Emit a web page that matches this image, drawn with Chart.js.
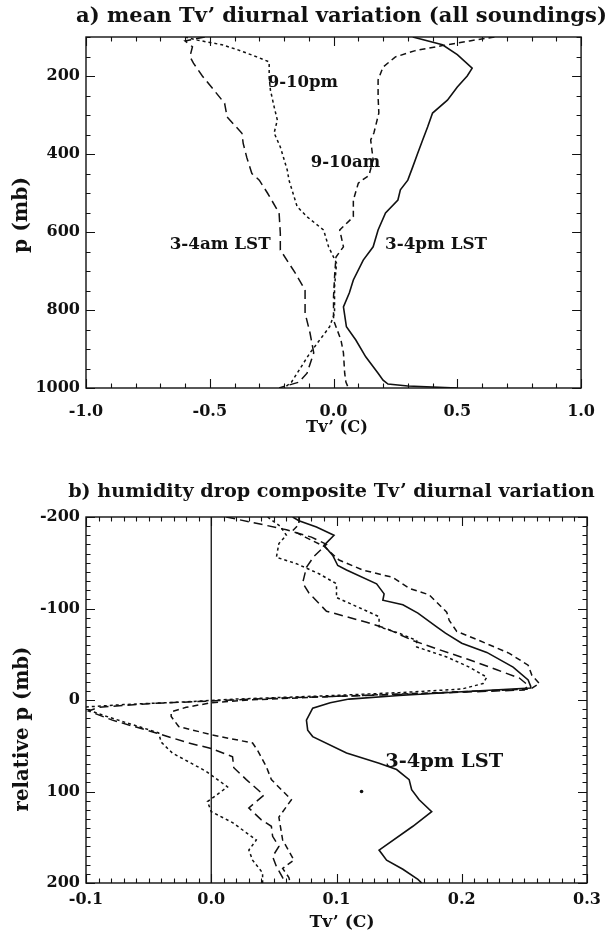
<!DOCTYPE html>
<html><head><meta charset="utf-8">
<script src="https://cdn.jsdelivr.net/npm/chart.js@4"></script>
<style>
html,body{margin:0;padding:0;background:#fff;width:609px;height:934px;overflow:hidden}
canvas{position:absolute;left:0}
#c1{top:0}#c2{top:450px}
</style></head>
<body>
<canvas id="c1" width="609" height="450"></canvas>
<canvas id="c2" width="609" height="484"></canvas>
<script>
// ---------- Panel a: mean Tv' diurnal variation ----------
const topXTicks = [-1, -0.5, 0, 0.5, 1];
const topYTicks = [200, 400, 600, 800, 1000];

const pm34_p  = [100, 120, 145, 180, 200, 228, 262, 295, 331, 364, 398, 433, 467, 492, 518, 551, 595, 638, 672, 723, 756, 792, 843, 877, 920, 962, 980, 990, 995, 1000];
const pm34_tv = [0.32, 0.44, 0.50, 0.56, 0.54, 0.50, 0.46, 0.40, 0.38, 0.36, 0.34, 0.32, 0.30, 0.27, 0.26, 0.21, 0.18, 0.16, 0.12, 0.08, 0.064, 0.04, 0.052, 0.09, 0.13, 0.18, 0.20, 0.22, 0.30, 0.50];

const am34_p  = [100, 110, 125, 150, 167, 200, 231, 270, 305, 347, 373, 410, 450, 467, 500, 551, 603, 646, 705, 749, 808, 859, 910, 962, 985, 1000];
const am34_tv = [-0.52, -0.60, -0.57, -0.58, -0.566, -0.53, -0.49, -0.44, -0.43, -0.37, -0.365, -0.35, -0.33, -0.30, -0.267, -0.22, -0.215, -0.215, -0.155, -0.115, -0.115, -0.095, -0.08, -0.107, -0.14, -0.22];

const pm910_p  = [100, 108, 120, 133, 151, 164, 203, 236, 279, 313, 346, 382, 441, 467, 535, 561, 595, 638, 680, 741, 808, 843, 877, 910, 962, 985, 1000];
const pm910_tv = [-0.60, -0.55, -0.45, -0.386, -0.31, -0.26, -0.26, -0.255, -0.24, -0.227, -0.24, -0.215, -0.187, -0.18, -0.147, -0.107, -0.04, -0.02, 0.012, 0.004, 0.004, -0.016, -0.056, -0.095, -0.147, -0.17, -0.20];

const am910_p  = [100, 110, 122, 135, 151, 177, 210, 254, 295, 346, 364, 415, 455, 465, 475, 518, 561, 595, 638, 664, 705, 766, 826, 877, 910, 962, 985, 1000];
const am910_tv = [0.65, 0.55, 0.44, 0.33, 0.25, 0.20, 0.18, 0.18, 0.183, 0.163, 0.15, 0.16, 0.143, 0.12, 0.10, 0.08, 0.08, 0.025, 0.04, 0.01, 0.005, 0.0, 0.0, 0.03, 0.04, 0.045, 0.05, 0.06];

// ---------- Panel b: humidity drop composite ----------
const botXTicks = [-0.1, 0, 0.1, 0.2, 0.3];
const botYTicks = [-200, -100, 0, 100, 200];

const bSolid_p  = [-200, -196, -189, -180, -169, -158, -147, -142, -127, -116, -109, -104, -95, -80, -73, -62, -52, -36, -22, -15, -13, -9, -5, -1, 3, 9, 22, 33, 40, 58, 69, 76, 87, 98, 109, 122, 138, 164, 175, 185, 196, 200];
const bSolid_tv = [0.065, 0.070, 0.084, 0.098, 0.090, 0.097, 0.101, 0.108, 0.132, 0.138, 0.137, 0.153, 0.165, 0.180, 0.187, 0.200, 0.220, 0.241, 0.253, 0.255, 0.255, 0.20, 0.15, 0.11, 0.095, 0.081, 0.076, 0.077, 0.081, 0.108, 0.134, 0.148, 0.158, 0.160, 0.166, 0.176, 0.161, 0.134, 0.140, 0.153, 0.165, 0.168];

const bLong_p  = [-200, -192, -186, -178, -170, -157, -145, -128, -117, -97, -91, -85, -78, -65, -55, -44, -33, -24, -16, -11, -6, -2, 1, 4, 8, 12, 22, 36, 47, 53, 62, 74, 87, 104, 118, 131, 138, 149, 160, 171, 182, 194, 200];
const bLong_tv = [0.012, 0.040, 0.060, 0.080, 0.092, 0.082, 0.076, 0.073, 0.078, 0.092, 0.108, 0.124, 0.140, 0.161, 0.182, 0.206, 0.228, 0.246, 0.253, 0.25, 0.15, 0.05, 0.0, -0.05, -0.09, -0.098, -0.079, -0.044, -0.018, 0.0, 0.017, 0.018, 0.028, 0.042, 0.030, 0.040, 0.048, 0.049, 0.054, 0.049, 0.052, 0.057, 0.058];

const bMed_p  = [-200, -192, -185, -178, -168, -153, -142, -134, -122, -115, -96, -87, -75, -65, -51, -38, -27, -18, -12, -8, -4, 0, 3, 8, 13, 18, 29, 38, 47, 55, 73, 87, 109, 128, 153, 175, 184, 194, 200];
const bMed_tv = [0.07, 0.07, 0.065, 0.075, 0.09, 0.102, 0.121, 0.145, 0.158, 0.174, 0.188, 0.19, 0.196, 0.214, 0.238, 0.253, 0.256, 0.262, 0.255, 0.18, 0.10, 0.03, 0.0, -0.02, -0.032, -0.032, -0.026, 0.0, 0.033, 0.037, 0.044, 0.048, 0.064, 0.054, 0.057, 0.066, 0.057, 0.062, 0.063];

const bShort_p  = [-200, -190, -180, -171, -156, -149, -138, -127, -112, -101, -91, -80, -73, -65, -58, -47, -36, -25, -18, -12, -8, -4, -1, 2, 5, 8, 20, 29, 36, 46, 58, 78, 91, 95, 102, 111, 122, 134, 153, 164, 175, 189, 200];
const bShort_tv = [0.045, 0.055, 0.06, 0.054, 0.052, 0.068, 0.086, 0.10, 0.10, 0.118, 0.134, 0.134, 0.15, 0.164, 0.164, 0.188, 0.206, 0.22, 0.217, 0.20, 0.15, 0.08, 0.02, -0.02, -0.07, -0.105, -0.079, -0.058, -0.042, -0.04, -0.031, -0.004, 0.009, 0.013, 0.006, -0.003, 0.0, 0.017, 0.036, 0.030, 0.033, 0.041, 0.041];

const zeroLine_tv = [0, 0];
const zeroLine_p  = [-200, 200];
const dot_tv = [0.12];
const dot_p  = [100];

// ---------- helpers ----------
const INK = '#111';
const FAMILY = '"DejaVu Serif", serif';
function pts(xs, ys) { return xs.map((v, i) => ({ x: v, y: ys[i] })); }
function line(label, xs, ys, dash, width) {
  return { label, data: pts(xs, ys), showLine: true, borderColor: INK, backgroundColor: INK,
    borderWidth: width || 1.5, borderDash: dash || [], pointRadius: 0, tension: 0, fill: false };
}
function setFont(ctx, t) {
  const weight = t.weight || 'bold';
  if (t.size) { ctx.font = weight + ' ' + t.size + 'px ' + FAMILY; return; }
  ctx.font = weight + ' 20px ' + FAMILY;
  const m = ctx.measureText(t.text).width;
  ctx.font = weight + ' ' + (20 * t.w / m).toFixed(2) + 'px ' + FAMILY;
}

const framePlugin = {
  id: 'frame',
  afterDraw(chart, args, o) {
    const { ctx, chartArea: a } = chart;
    const xs = chart.scales.x, ys = chart.scales.y;
    ctx.save();
    ctx.strokeStyle = INK; ctx.lineWidth = 1.4;
    ctx.strokeRect(a.left, a.top, a.right - a.left, a.bottom - a.top);
    ctx.lineWidth = 1.1;
    ctx.beginPath();
    const nx = Math.round((xs.max - xs.min) / o.xMinor);
    for (let i = 0; i <= nx; i++) {
      const v = xs.min + i * o.xMinor;
      const major = Math.abs(v / o.xMajor - Math.round(v / o.xMajor)) < 1e-6;
      const len = major ? 9 : 4.5;
      const px = Math.round(xs.getPixelForValue(v)) + 0.5;
      ctx.moveTo(px, a.bottom); ctx.lineTo(px, a.bottom - len);
      ctx.moveTo(px, a.top); ctx.lineTo(px, a.top + len);
    }
    const ny = Math.round((ys.max - ys.min) / o.yMinor);
    for (let i = 0; i <= ny; i++) {
      const v = ys.min + i * o.yMinor;
      const major = Math.abs(v / o.yMajor - Math.round(v / o.yMajor)) < 1e-6;
      const len = major ? 9 : 4.5;
      const py = Math.round(ys.getPixelForValue(v)) + 0.5;
      ctx.moveTo(a.left, py); ctx.lineTo(a.left + len, py);
      ctx.moveTo(a.right, py); ctx.lineTo(a.right - len, py);
    }
    ctx.stroke();
    ctx.fillStyle = INK;
    ctx.textBaseline = 'middle';
    for (const t of o.texts) {
      let x, y;
      if (t.data) { x = xs.getPixelForValue(t.data[0]); y = ys.getPixelForValue(t.data[1]); }
      else { x = t.px[0]; y = t.px[1]; }
      setFont(ctx, t);
      ctx.save();
      ctx.translate(x, y);
      if (t.rot) ctx.rotate(-Math.PI / 2);
      ctx.textAlign = 'center';
      ctx.fillText(t.text, 0, 0);
      ctx.restore();
    }
    ctx.restore();
  }
};

function makeChart(id, H, area, cfg) {
  const tickFont = { family: FAMILY, size: 16, weight: 'bold' };
  return new Chart(document.getElementById(id), {
    type: 'scatter',
    data: { datasets: cfg.datasets },
    plugins: [framePlugin],
    options: {
      responsive: false, animation: false, devicePixelRatio: 1,
      layout: { padding: { top: area.top, right: 609 - area.right, left: 0, bottom: 0 } },
      plugins: { legend: { display: false }, tooltip: { enabled: false }, frame: cfg.frame },
      scales: {
        x: {
          type: 'linear', min: cfg.xMin, max: cfg.xMax,
          grid: { display: false, drawTicks: false }, border: { display: false },
          afterBuildTicks: s => { s.ticks = cfg.xTicks.map(v => ({ value: v })); },
          afterFit: s => { s.height = H - area.bottom; },
          ticks: { font: tickFont, color: INK, padding: cfg.xPad, maxRotation: 0, autoSkip: false,
            callback: v => (Math.abs(v) < 1e-9 ? 0 : v).toFixed(1) }
        },
        y: {
          type: 'linear', min: cfg.yMin, max: cfg.yMax, reverse: cfg.reverse,
          grid: { display: false, drawTicks: false }, border: { display: false },
          afterBuildTicks: s => { s.ticks = cfg.yTicks.map(v => ({ value: v })); },
          afterFit: s => { s.width = area.left; },
          ticks: { font: tickFont, color: INK, padding: 6, autoSkip: false,
            callback: v => String(Math.round(v)) }
        }
      }
    }
  });
}

makeChart('c1', 450, { left: 86, right: 588, top: 37, bottom: 388 }, {
  xMin: -1, xMax: 1, yMin: 100, yMax: 1000, reverse: true,
  xTicks: topXTicks, yTicks: topYTicks, xPad: 14,
  datasets: [
    line('3-4pm LST', pm34_tv, pm34_p, [], 1.6),
    line('3-4am LST', am34_tv, am34_p, [9, 5]),
    line('9-10pm', pm910_tv, pm910_p, [3, 3]),
    line('9-10am', am910_tv, am910_p, [6, 4])
  ],
  frame: {
    xMinor: 0.1, xMajor: 0.5, yMinor: 50, yMajor: 200,
    texts: [
      { text: 'a) mean Tv\u2019 diurnal variation (all soundings)', px: [341.5, 17], w: 531, weight: 'bold' },
      { text: 'Tv\u2019 (C)', px: [337, 428], w: 62 },
      { text: 'p (mb)', px: [22, 215], w: 76, rot: true },
      { text: '9-10pm', data: [-0.124, 218], size: 16.5 },
      { text: '9-10am', data: [0.048, 423], size: 16.5 },
      { text: '3-4am LST', data: [-0.458, 633], w: 101 },
      { text: '3-4pm LST', data: [0.414, 633], w: 102 }
    ]
  }
});

makeChart('c2', 484, { left: 86, right: 587, top: 67, bottom: 433 }, {
  xMin: -0.1, xMax: 0.3, yMin: -200, yMax: 200, reverse: true,
  xTicks: botXTicks, yTicks: botYTicks, xPad: 7,
  datasets: [
    line('zero', zeroLine_tv, zeroLine_p, [], 1.3),
    line('3-4pm LST', bSolid_tv, bSolid_p, [], 1.6),
    line('long', bLong_tv, bLong_p, [9, 5]),
    line('medium', bMed_tv, bMed_p, [6, 4]),
    line('short', bShort_tv, bShort_p, [3, 3]),
    { label: 'dot', data: pts(dot_tv, dot_p), showLine: false, pointRadius: 1.8, pointBorderWidth: 0,
      backgroundColor: INK, borderColor: INK }
  ],
  frame: {
    xMinor: 0.01, xMajor: 0.1, yMinor: 10, yMajor: 100,
    texts: [
      { text: 'b) humidity drop composite Tv\u2019 diurnal variation', px: [331.5, 42], w: 527, weight: 'bold' },
      { text: 'Tv\u2019 (C)', px: [342, 473], w: 65 },
      { text: 'relative p (mb)', px: [23, 279], w: 165, rot: true },
      { text: '3-4pm LST', data: [0.186, 68], w: 118 }
    ]
  }
});
</script>
</body></html>
